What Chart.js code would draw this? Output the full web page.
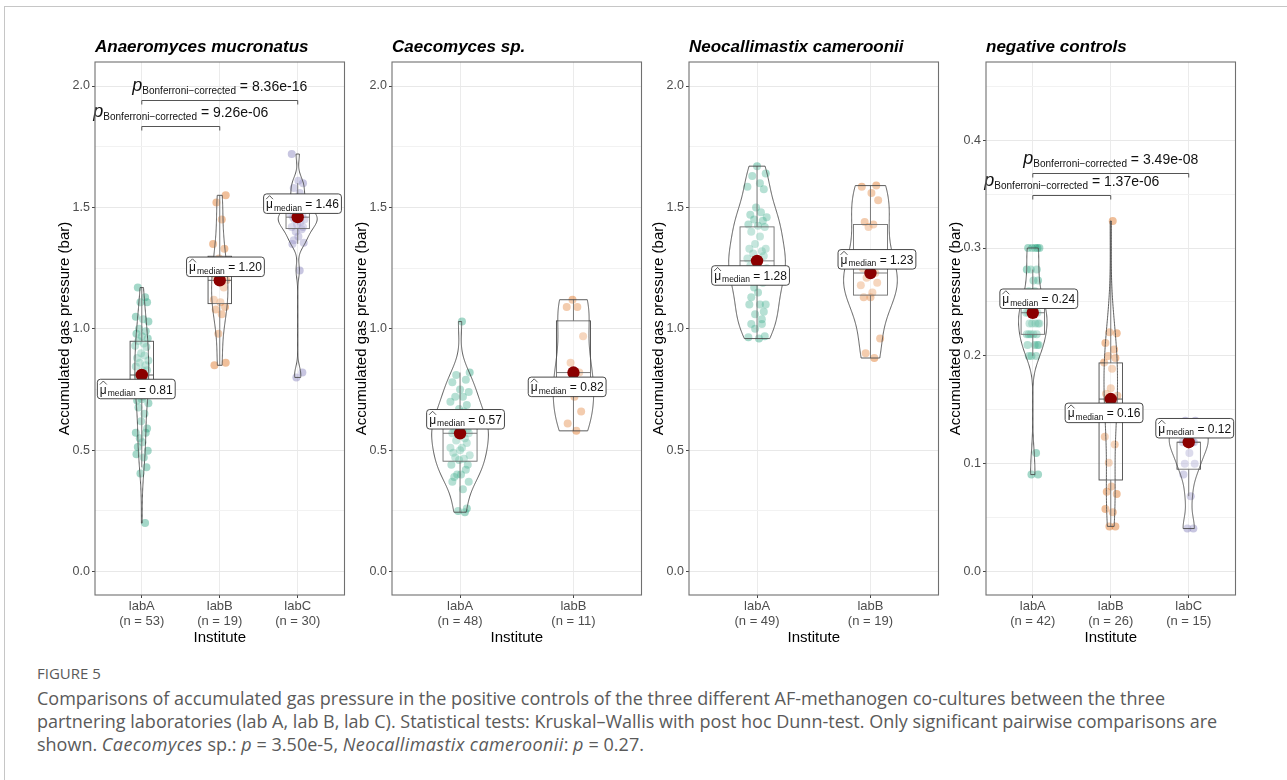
<!DOCTYPE html>
<html>
<head>
<meta charset="utf-8">
<script src="https://cdn.jsdelivr.net/npm/chart.js@4.4.0/dist/chart.umd.min.js"></script>
<style>
  body { margin: 0; background: #fff; width: 1287px; height: 780px; overflow: hidden; position: relative; }
  #frame { position: absolute; left: 4px; top: 6px; width: 1300px; height: 800px; border-left: 1px solid #c6c6c6; border-top: 1px solid #c6c6c6; }
  canvas.panel { position: absolute; top: 30px; }
  .cap { position: absolute; left: 37px; font-family: "Open Sans", Lato, sans-serif; color: #5a5a5a; white-space: nowrap; }
  #figlabel { top: 664px; font-size: 15px; line-height: 18px; }
  #figtext { top: 687px; font-size: 18px; line-height: 23.2px; }
  #figtext i { letter-spacing: 0.4px; }
</style>
</head>
<body>
<div id="frame"></div>
<canvas class="panel" id="p0" width="306" height="620"></canvas>
<canvas class="panel" id="p1" width="306" height="620"></canvas>
<canvas class="panel" id="p2" width="306" height="620"></canvas>
<canvas class="panel" id="p3" width="306" height="620"></canvas>
<div class="cap" id="figlabel">FIGURE 5</div>
<div class="cap" id="figtext">Comparisons of accumulated gas pressure in the positive controls of the three different AF-methanogen co-cultures between the three<br>partnering laboratories (lab A, lab B, lab C). Statistical tests: Kruskal–Wallis with post hoc Dunn-test. Only significant pairwise comparisons are<br>shown. <i>Caecomyces</i> sp.: <i>p</i> = 3.50e-5, <i>Neocallimastix cameroonii</i>: <i>p</i> = 0.27.</div>

<script>
const institutes = ['labA', 'labB', 'labC'];
const panelTitles = ['Anaeromyces mucronatus', 'Caecomyces sp.', 'Neocallimastix cameroonii', 'negative controls'];

// accumulated gas pressure (bar), one value per culture
const anaeroA = [1.17, 1.13, 1.11, 1.11, 1.05, 1.04, 1.03, 1.00, 0.99, 0.98,
  0.97, 0.96, 0.95, 0.94, 0.93, 0.925, 0.90, 0.89, 0.88, 0.87,
  0.86, 0.85, 0.845, 0.83, 0.83, 0.81, 0.80, 0.79, 0.78, 0.77,
  0.76, 0.75, 0.74, 0.73, 0.72, 0.71, 0.705, 0.694, 0.676, 0.65,
  0.62, 0.59, 0.572, 0.572, 0.55, 0.533, 0.514, 0.498, 0.484, 0.47,
  0.43, 0.404, 0.20];
const anaeroB = [1.55, 1.52, 1.45, 1.35, 1.33, 1.29, 1.25, 1.22, 1.20, 1.20,
  1.17, 1.12, 1.11, 1.09, 1.08, 1.06, 0.98, 0.86, 0.85];
const anaeroC = [1.72, 1.61, 1.60, 1.58, 1.56, 1.54, 1.52, 1.50, 1.49, 1.48,
  1.47, 1.47, 1.46, 1.46, 1.46, 1.45, 1.45, 1.44, 1.43, 1.42,
  1.42, 1.41, 1.40, 1.38, 1.365, 1.355, 1.35, 1.24, 0.82, 0.80];
const caecoA = [1.03, 0.82, 0.81, 0.79, 0.78, 0.75, 0.74, 0.72, 0.72, 0.70,
  0.686, 0.67, 0.66, 0.65, 0.64, 0.63, 0.62, 0.61, 0.60, 0.59,
  0.585, 0.58, 0.575, 0.57, 0.57, 0.55, 0.54, 0.53, 0.51, 0.51,
  0.50, 0.49, 0.48, 0.47, 0.465, 0.46, 0.44, 0.44, 0.42, 0.40,
  0.40, 0.39, 0.37, 0.37, 0.34, 0.26, 0.25, 0.245];
const caecoB = [1.12, 1.09, 1.09, 0.97, 0.86, 0.82, 0.78, 0.72, 0.66, 0.61, 0.58];
const neoA = [1.67, 1.64, 1.63, 1.60, 1.585, 1.575, 1.50, 1.48, 1.47, 1.46,
  1.45, 1.445, 1.43, 1.425, 1.42, 1.40, 1.38, 1.35, 1.33, 1.33,
  1.32, 1.31, 1.30, 1.29, 1.28, 1.27, 1.26, 1.25, 1.24, 1.23,
  1.22, 1.21, 1.20, 1.19, 1.17, 1.15, 1.13, 1.10, 1.10, 1.10,
  1.07, 1.06, 1.04, 1.02, 1.02, 1.00, 0.97, 0.965, 0.96];
const neoB = [1.59, 1.585, 1.56, 1.53, 1.44, 1.43, 1.42, 1.27, 1.25, 1.23,
  1.21, 1.19, 1.18, 1.15, 1.13, 1.13, 0.96, 0.90, 0.88];
const negA = [0.30, 0.30, 0.30, 0.30, 0.30, 0.28, 0.28, 0.28, 0.27, 0.27,
  0.26, 0.26, 0.25, 0.25, 0.25, 0.25, 0.24, 0.24, 0.24, 0.24,
  0.24, 0.24, 0.23, 0.23, 0.23, 0.23, 0.23, 0.22, 0.22, 0.22,
  0.22, 0.22, 0.21, 0.21, 0.21, 0.21, 0.20, 0.20, 0.20, 0.11,
  0.09, 0.09];
const negB = [0.325, 0.222, 0.221, 0.212, 0.206, 0.20, 0.198, 0.194, 0.188, 0.17,
  0.165, 0.163, 0.16, 0.155, 0.15, 0.145, 0.125, 0.118, 0.101, 0.079,
  0.074, 0.072, 0.058, 0.055, 0.042, 0.042];
const negC = [0.14, 0.14, 0.13, 0.13, 0.12, 0.12, 0.12, 0.12, 0.11, 0.10,
  0.10, 0.09, 0.07, 0.04, 0.04];

// box statistics: [lower whisker, Q1, median, Q3, upper whisker]
const anaeroBoxA = [0.43, 0.74, 0.81, 0.949, 1.17];
const anaeroBoxB = [0.85, 1.104, 1.20, 1.299, 1.55];
const anaeroBoxC = [1.35, 1.413, 1.46, 1.49, 1.60];
const caecoBoxA = [0.245, 0.455, 0.57, 0.65, 0.82];
const caecoBoxB = [0.58, 0.76, 0.82, 1.033, 1.12];
const neoBoxA = [0.96, 1.20, 1.28, 1.42, 1.67];
const neoBoxB = [0.88, 1.139, 1.23, 1.43, 1.59];
const negBoxA = [0.20, 0.22, 0.24, 0.25, 0.28];
const negBoxB = [0.042, 0.085, 0.16, 0.1935, 0.325];
const negBoxC = [0.07, 0.095, 0.12, 0.12, 0.14];

// significant pairwise Dunn tests (group numbers) and Bonferroni p-values
const anaeroPairs = [[1, 2], [1, 3]];
const anaeroP = ['9.26e-06', '8.36e-16'];
const negPairs = [[1, 2], [1, 3]];
const negP = ['1.37e-06', '3.49e-08'];

// horizontal jitter of the points, in category units
const jitter = [-0.06, 0.05, -0.02, 0.08, -0.09, 0.02, 0.10, -0.04, 0.06, -0.08,
  0.00, 0.09, -0.05, 0.03, -0.10, 0.07, -0.01, 0.04, -0.07, 0.10,
  -0.03, 0.06, -0.09, 0.01, 0.08, -0.06, 0.03, -0.02, 0.09, -0.08,
  0.05, -0.04, 0.07, -0.10, 0.02, 0.00, -0.07, 0.10, -0.05, 0.04,
  -0.01, 0.08, -0.09, 0.06, -0.03, 0.01, -0.06, 0.09, -0.08, 0.03,
  0.07, -0.02, 0.05];

const FONT = '"Liberation Sans", Arial, sans-serif';
Chart.defaults.font.family = FONT;
const pointColors = ['rgba(27,158,119,0.4)', 'rgba(217,95,2,0.4)', 'rgba(117,112,179,0.4)'];
const LINE = '#4a4a4a';

const panels = [
  { title: panelTitles[0], left: 95, groups: [anaeroA, anaeroB, anaeroC], boxes: [anaeroBoxA, anaeroBoxB, anaeroBoxC],
    pairs: anaeroPairs, pvals: anaeroP, bracketY: [1.834, 1.944],
    yMin: -0.096, yMax: 2.099, minor: 0.25, major: 0.5,
    labelOffsets: [[-5.5, 14], [5.7, -13.5], [4.8, -13.5]] },
  { title: panelTitles[1], left: 392, groups: [caecoA, caecoB], boxes: [caecoBoxA, caecoBoxB],
    pairs: [], pvals: [], bracketY: [],
    yMin: -0.096, yMax: 2.099, minor: 0.25, major: 0.5,
    labelOffsets: [[5.5, -14], [-6.3, 14.3]] },
  { title: panelTitles[2], left: 689, groups: [neoA, neoB], boxes: [neoBoxA, neoBoxB],
    pairs: [], pvals: [], bracketY: [],
    yMin: -0.096, yMax: 2.099, minor: 0.25, major: 0.5,
    labelOffsets: [[-6.5, 14.6], [6.5, -13.7]] },
  { title: panelTitles[3], left: 986, groups: [negA, negB, negC], boxes: [negBoxA, negBoxB, negBoxC],
    pairs: negPairs, pvals: negP, bracketY: [0.3488, 0.3698],
    yMin: -0.0216, yMax: 0.4724, minor: 0.05, major: 0.1,
    labelOffsets: [[6, -14], [-6.7, 13.8], [6, -14]] }
];

// gaussian kernel density, bandwidth as R's bw.nrd0, trimmed to the data range
function density(values, steps) {
  const n = values.length;
  const s = [...values].sort((a, b) => a - b);
  const mean = s.reduce((a, b) => a + b, 0) / n;
  const sd = Math.sqrt(s.reduce((a, b) => a + (b - mean) ** 2, 0) / (n - 1));
  const q = p => { const h = (n - 1) * p, i = Math.floor(h); return s[i] + (h - i) * ((s[i + 1] ?? s[i]) - s[i]); };
  let spread = Math.min(sd, (q(0.75) - q(0.25)) / 1.34);
  if (!spread) spread = sd || 1;
  const bw = 0.9 * spread * Math.pow(n, -0.2);
  const lo = s[0], hi = s[n - 1];
  const out = [];
  for (let k = 0; k <= steps; k++) {
    const y = lo + (hi - lo) * k / steps;
    let d = 0;
    for (const v of s) d += Math.exp(-0.5 * ((y - v) / bw) ** 2);
    out.push({ y, d: d / (n * bw * Math.sqrt(2 * Math.PI)) });
  }
  return out;
}

function drawShapes(chart, p) {
  const ctx = chart.ctx, xs = chart.scales.x, ys = chart.scales.y;
  ctx.save();
  ctx.strokeStyle = LINE;
  ctx.lineWidth = 0.9;
  // boxplots
  p.boxes.forEach((b, gi) => {
    const c = gi + 1;
    const xl = xs.getPixelForValue(c - 0.15), xr = xs.getPixelForValue(c + 0.15), xc = xs.getPixelForValue(c);
    ctx.beginPath();
    ctx.moveTo(xc, ys.getPixelForValue(b[0])); ctx.lineTo(xc, ys.getPixelForValue(b[1]));
    ctx.moveTo(xc, ys.getPixelForValue(b[3])); ctx.lineTo(xc, ys.getPixelForValue(b[4]));
    ctx.stroke();
    const yt = ys.getPixelForValue(b[3]), yb = ys.getPixelForValue(b[1]);
    ctx.fillStyle = 'rgba(255,255,255,0.2)';
    ctx.fillRect(xl, yt, xr - xl, yb - yt);
    ctx.strokeRect(xl, yt, xr - xl, yb - yt);
    ctx.beginPath();
    ctx.moveTo(xl, ys.getPixelForValue(b[2])); ctx.lineTo(xr, ys.getPixelForValue(b[2]));
    ctx.stroke();
  });
  // violins, scaled so that all have the same area
  const dens = p.groups.map(v => density(v, 200));
  const maxD = Math.max(...dens.map(d => Math.max(...d.map(o => o.d))));
  dens.forEach((d, gi) => {
    const c = gi + 1;
    ctx.beginPath();
    d.forEach((o, i) => {
      const px = xs.getPixelForValue(c + 0.25 * o.d / maxD), py = ys.getPixelForValue(o.y);
      if (i) ctx.lineTo(px, py); else ctx.moveTo(px, py);
    });
    for (let i = d.length - 1; i >= 0; i--) {
      ctx.lineTo(xs.getPixelForValue(c - 0.25 * d[i].d / maxD), ys.getPixelForValue(d[i].y));
    }
    ctx.closePath();
    ctx.fillStyle = 'rgba(255,255,255,0.2)';
    ctx.fill();
    ctx.stroke();
  });
  ctx.restore();
}

function drawLabels(chart, p) {
  const ctx = chart.ctx, xs = chart.scales.x, ys = chart.scales.y;
  ctx.save();
  p.boxes.forEach((b, gi) => {
    const cx = xs.getPixelForValue(gi + 1) + p.labelOffsets[gi][0];
    const cy = ys.getPixelForValue(b[2]) + p.labelOffsets[gi][1];
    const rest = ' = ' + b[2].toFixed(2);
    ctx.font = '12px ' + FONT;
    const wMu = ctx.measureText('μ').width, wRest = ctx.measureText(rest).width;
    ctx.font = '8.5px ' + FONT;
    const wSub = ctx.measureText('median').width;
    const tw = wMu + 1 + wSub + wRest, bw = tw + 5, bh = 19.5;
    ctx.beginPath();
    ctx.roundRect(cx - bw / 2, cy - bh / 2, bw, bh, 3);
    ctx.fillStyle = '#fff';
    ctx.fill();
    ctx.strokeStyle = '#333';
    ctx.lineWidth = 0.9;
    ctx.stroke();
    let x = cx - tw / 2;
    ctx.fillStyle = '#111';
    ctx.textBaseline = 'alphabetic';
    ctx.textAlign = 'left';
    ctx.font = '12px ' + FONT;
    ctx.fillText('μ', x, cy + 4.5);
    ctx.beginPath();
    ctx.moveTo(x, cy - 4.5); ctx.lineTo(x + wMu / 2, cy - 8); ctx.lineTo(x + wMu, cy - 4.5);
    ctx.strokeStyle = '#111'; ctx.lineWidth = 0.7; ctx.stroke();
    x += wMu + 1;
    ctx.font = '8.5px ' + FONT;
    ctx.fillText('median', x, cy + 7);
    x += wSub;
    ctx.font = '12px ' + FONT;
    ctx.fillText(rest, x, cy + 4.5);
  });
  ctx.restore();
}

function drawBrackets(chart, p) {
  const ctx = chart.ctx, xs = chart.scales.x, ys = chart.scales.y;
  ctx.save();
  p.pairs.forEach((pair, i) => {
    const x1 = xs.getPixelForValue(pair[0]), x2 = xs.getPixelForValue(pair[1]);
    const y = Math.round(ys.getPixelForValue(p.bracketY[i])) + 0.5;
    ctx.beginPath();
    ctx.moveTo(x1, y + 4); ctx.lineTo(x1, y); ctx.lineTo(x2, y); ctx.lineTo(x2, y + 4);
    ctx.strokeStyle = '#555'; ctx.lineWidth = 1; ctx.stroke();
    const rest = ' = ' + p.pvals[i];
    const fP = 'italic 18px ' + FONT, fS = '10px ' + FONT, fR = '14px ' + FONT;
    ctx.font = fP; const wP = ctx.measureText('p').width;
    ctx.font = fS; const wS = ctx.measureText('Bonferroni−corrected').width;
    ctx.font = fR; const wR = ctx.measureText(rest).width;
    let x = (x1 + x2) / 2 - (wP + wS + wR) / 2;
    ctx.fillStyle = '#111';
    ctx.textAlign = 'left';
    ctx.textBaseline = 'alphabetic';
    ctx.font = fP; ctx.fillText('p', x, y - 9.3); x += wP;
    ctx.font = fS; ctx.fillText('Bonferroni−corrected', x, y - 6.3); x += wS;
    ctx.font = fR; ctx.fillText(rest, x, y - 9.3);
  });
  ctx.restore();
}

function panelPlugin(p) {
  return {
    id: 'panelExtras',
    beforeDatasetDraw(chart, args) {
      if (args.index === p.groups.length) drawShapes(chart, p);
    },
    afterDatasetsDraw(chart) {
      drawLabels(chart, p);
      drawBrackets(chart, p);
    },
    afterDraw(chart) {
      const ctx = chart.ctx, a = chart.chartArea;
      ctx.save();
      ctx.strokeStyle = '#707070';
      ctx.lineWidth = 1.1;
      ctx.strokeRect(a.left, a.top, a.right - a.left, a.bottom - a.top);
      ctx.fillStyle = '#000';
      ctx.font = 'italic bold 17px ' + FONT;
      ctx.textAlign = 'left';
      ctx.textBaseline = 'alphabetic';
      ctx.fillText(p.title, a.left, 22);
      ctx.restore();
    }
  };
}

panels.forEach((p, pi) => {
  const el = document.getElementById('p' + pi);
  el.style.left = (p.left - 50) + 'px';
  const k = p.groups.length;
  const isMajor = v => Math.abs(v / p.major - Math.round(v / p.major)) < 1e-6;
  const yTicks = [];
  for (let i = 0; i * p.minor <= p.yMax + 1e-9; i++) yTicks.push(+(i * p.minor).toFixed(4));

  const datasets = p.groups.map((vals, gi) => ({
    label: institutes[gi],
    data: vals.map((v, i) => ({ x: gi + 1 + 0.85 * jitter[(i + gi * 11 + pi * 5) % jitter.length], y: v })),
    backgroundColor: pointColors[gi],
    pointRadius: 4,
    borderWidth: 0,
    order: 3
  }));
  datasets.push({
    label: 'median',
    data: p.boxes.map((b, gi) => ({ x: gi + 1, y: b[2] })),
    backgroundColor: '#8b0000',
    pointRadius: 6.2,
    borderWidth: 0,
    order: 1
  });

  new Chart(el, {
    type: 'scatter',
    data: { datasets },
    options: {
      responsive: false,
      animation: false,
      events: [],
      layout: { padding: { left: 0, top: 32, right: 6.5, bottom: 0 } },
      plugins: { legend: { display: false }, tooltip: { enabled: false } },
      scales: {
        x: {
          type: 'linear', min: 0.4, max: k + 0.6,
          afterBuildTicks: s => { s.ticks = p.groups.map((g, i) => ({ value: i + 1 })); },
          afterFit: s => { s.height = 55; },
          border: { display: false },
          grid: { color: '#ebebeb', lineWidth: 1, tickLength: 3, tickColor: '#444' },
          ticks: {
            autoSkip: false, maxRotation: 0, padding: 1, color: '#4d4d4d',
            font: { size: 13, lineHeight: 1.15 },
            callback: v => [institutes[v - 1], '(n = ' + p.groups[v - 1].length + ')']
          },
          title: { display: true, text: 'Institute', color: '#000', font: { size: 15, lineHeight: 1.2 }, padding: { top: 0, bottom: 3 } }
        },
        y: {
          min: p.yMin, max: p.yMax,
          afterBuildTicks: s => { s.ticks = yTicks.map(v => ({ value: v })); },
          afterFit: s => { s.width = 50; },
          border: { display: false },
          grid: {
            color: c => isMajor(c.tick.value) ? '#e8e8e8' : '#f2f2f2',
            lineWidth: 1, tickLength: 3,
            tickColor: c => isMajor(c.tick.value) ? '#444' : 'rgba(0,0,0,0)'
          },
          ticks: {
            autoSkip: false, padding: 2, color: '#4d4d4d', font: { size: 12.5 },
            callback: v => isMajor(v) ? v.toFixed(1) : ''
          },
          title: { display: true, text: 'Accumulated gas pressure (bar)', color: '#000', font: { size: 15, lineHeight: 1.2 }, padding: { top: 11, bottom: 0 } }
        }
      }
    },
    plugins: [panelPlugin(p)]
  });
});
</script>
</body>
</html>
